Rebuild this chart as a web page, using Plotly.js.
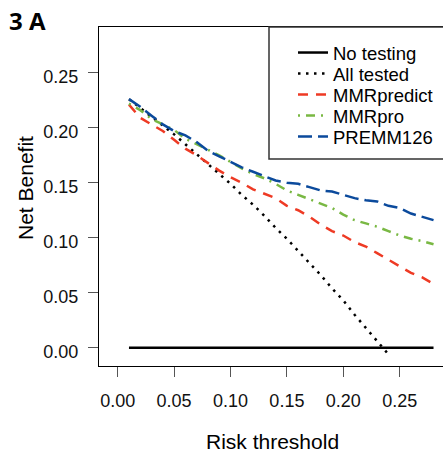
<!DOCTYPE html>
<html>
<head>
<meta charset="utf-8">
<script src="https://cdn.plot.ly/plotly-3.0.1.min.js"></script>
<style>
html,body{margin:0;padding:0;background:#fff;}
#chart{width:443px;height:453px;}
</style>
</head>
<body>
<div id="chart"></div>
<script>
// Risk thresholds
var thresholds = [0.01,0.02,0.03,0.04,0.05,0.06,0.07,0.08,0.09,0.10,0.11,0.12,0.13,0.14,0.15,0.16,0.17,0.18,0.19,0.20,0.21,0.22,0.23,0.24,0.25,0.26,0.27,0.28];
var thresholdsAll = [0.01,0.02,0.03,0.04,0.05,0.06,0.07,0.08,0.09,0.10,0.11,0.12,0.13,0.14,0.15,0.16,0.17,0.18,0.19,0.20,0.21,0.22,0.23,0.24];

var noTesting = [0,0,0,0,0,0,0,0,0,0,0,0,0,0,0,0,0,0,0,0,0,0,0,0,0,0,0,0];
var allTested = [0.226,0.218,0.210,0.202,0.194,0.185,0.176,0.167,0.158,0.149,0.139,0.130,0.120,0.109,0.099,0.088,0.077,0.066,0.054,0.043,0.030,0.018,0.005,-0.006];
var mmrPredict = [0.221,0.209,0.203,0.197,0.189,0.181,0.175,0.168,0.161,0.155,0.150,0.144,0.140,0.136,0.129,0.125,0.119,0.112,0.106,0.102,0.096,0.092,0.086,0.080,0.074,0.068,0.064,0.058];
var mmrPro = [0.222,0.216,0.208,0.203,0.198,0.190,0.185,0.180,0.175,0.169,0.163,0.158,0.154,0.149,0.143,0.139,0.135,0.131,0.127,0.121,0.116,0.113,0.110,0.106,0.102,0.099,0.097,0.094];
var premm126 = [0.226,0.219,0.211,0.203,0.197,0.193,0.187,0.179,0.174,0.169,0.164,0.160,0.156,0.152,0.150,0.149,0.146,0.143,0.142,0.139,0.136,0.134,0.133,0.129,0.127,0.122,0.119,0.116];

var seriesNames = ["No testing","All tested","MMRpredict","MMRpro","PREMM126"];
var tickVals = [0,0.05,0.10,0.15,0.20,0.25];
var tickText = ["0.00","0.05","0.10","0.15","0.20","0.25"];

var FONT = "Liberation Sans, Arial, sans-serif";

var traces = [
  {x: thresholds, y: noTesting, name: seriesNames[0], mode: "lines",
   line: {color: "#000000", width: 2.5}, legend: "legend"},
  {x: thresholdsAll, y: allTested, name: seriesNames[1], mode: "lines",
   line: {color: "#000000", width: 2.5, dash: "2.5px,5.5px"}, legend: "legend2"},
  {x: thresholds, y: mmrPredict, name: seriesNames[2], mode: "lines",
   line: {color: "#EE3A24", width: 2.5, dash: "10px,8px"}, legend: "legend3"},
  {x: thresholds, y: mmrPro, name: seriesNames[3], mode: "lines",
   line: {color: "#79B843", width: 2.5, dash: "2px,6px,9px,6px"}, legend: "legend4"},
  {x: thresholds, y: premm126, name: seriesNames[4], mode: "lines",
   line: {color: "#0B4A9C", width: 2.5, dash: "14px,6px"}, legend: "legend5"}
];

function py(p){ return (366 - p) / 339; }
function px(p){ return (p - 99) / 344; }

var rowY = [53, 74, 95, 116, 137];
var legX = px(293);
function mkLegend(i){
  return {x: legX, xanchor: "left", y: py(rowY[i]), yanchor: "middle",
          bgcolor: "rgba(0,0,0,0)", borderwidth: 0,
          font: {family: FONT, size: 18.5, color: "#000"}};
}

var layout = {
  width: 443, height: 453,
  margin: {l: 99, r: 0, t: 27, b: 87},
  paper_bgcolor: "#fff", plot_bgcolor: "#fff",
  font: {family: FONT, color: "#000"},
  xaxis: {
    range: [-0.01657, 0.2884], showgrid: false, zeroline: false,
    showline: true, linecolor: "#000", linewidth: 1, mirror: true,
    ticks: "outside", ticklen: 10, tickwidth: 1, tickcolor: "#555",
    tickvals: tickVals, ticktext: tickText,
    tickfont: {family: FONT, size: 18, color: "#111"},
    ticklabelstandoff: 8
  },
  yaxis: {
    range: [-0.01664, 0.2916], showgrid: false, zeroline: false,
    showline: true, linecolor: "#000", linewidth: 1,
    ticks: "outside", ticklen: 10, tickwidth: 1, tickcolor: "#555",
    tickvals: tickVals, ticktext: tickText,
    tickfont: {family: FONT, size: 18, color: "#111"},
    ticklabelstandoff: 6, ticklabelshift: 4
  },
  showlegend: true,
  legend: mkLegend(0), legend2: mkLegend(1), legend3: mkLegend(2),
  legend4: mkLegend(3), legend5: mkLegend(4),
  shapes: [
    {type: "rect", xref: "paper", yref: "paper", x0: px(269), x1: 1.1, y0: py(159), y1: 1,
     line: {color: "#333", width: 1.5}, fillcolor: "rgba(0,0,0,0)", layer: "above"}
  ],
  annotations: [
    {text: "<b>3 A</b>", xref: "paper", yref: "paper", x: px(7), y: py(21),
     xanchor: "left", yanchor: "middle", showarrow: false,
     font: {family: "Open Sans, sans-serif", size: 24, color: "#000"}},
    {text: "Net Benefit", xref: "paper", yref: "paper", x: px(25), y: py(188),
     xanchor: "center", yanchor: "middle", showarrow: false, textangle: -90,
     font: {family: FONT, size: 21, color: "#000"}},
    {text: "Risk threshold", xref: "paper", yref: "paper", x: px(272), y: py(441),
     xanchor: "center", yanchor: "middle", showarrow: false,
     font: {family: FONT, size: 21, color: "#000"}}
  ]
};

Plotly.newPlot("chart", traces, layout, {displayModeBar: false, staticPlot: true});
</script>
</body>
</html>
